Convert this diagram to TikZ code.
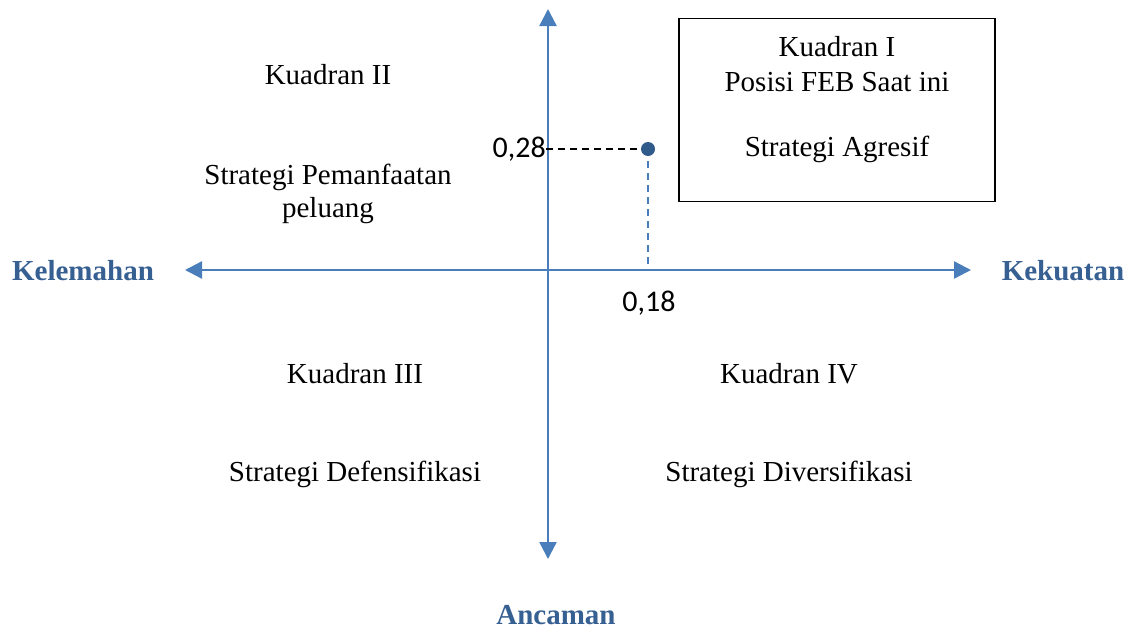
\documentclass[tikz,border=0pt]{standalone}
\usepackage{fontspec}
\setmainfont{Liberation Serif}
\newfontfamily\numfont{Carlito}
\usetikzlibrary{arrows.meta}
\definecolor{axisblue}{HTML}{4A7EBB}
\definecolor{labelblue}{HTML}{376092}
\definecolor{dotblue}{HTML}{2F5A8A}
\tikzset{
  axisline/.style={draw=axisblue, line width=2.3pt, -{Triangle[length=17pt,width=17pt]}},
  txt/.style={font=\fontsize{29}{35}\selectfont, inner sep=0pt, align=center},
  axlabel/.style={font=\fontsize{29}{35}\selectfont\bfseries, text=labelblue, inner sep=0pt},
  numlabel/.style={font=\numfont\fontsize{30}{36}\selectfont, inner sep=0pt},
}
\begin{document}
\begin{tikzpicture}[x=1pt,y=-1pt]
\useasboundingbox (0,0) rectangle (1134,629);
\coordinate (O) at (548,270);
\coordinate (top) at (548,9);
\coordinate (bot) at (548,559);
\coordinate (left) at (185,270);
\coordinate (right) at (971,270);
\draw[axisline] (O) -- (top);
\draw[axisline] (O) -- (bot);
\draw[axisline] (O) -- (left);
\draw[axisline] (O) -- (right);

\node[axlabel] (kel) at (83,271) {Kelemahan};
\node[axlabel] (kek) at (1063,271) {Kekuatan};
\node[axlabel] (anc) at (556,615) {Ancaman};

\node[draw, line width=1.5pt, minimum width=316pt, minimum height=183pt, inner sep=0pt] (box) at (837,110) {};
\node[txt] (k1) at (837,47) {Kuadran I};
\node[txt] (k1b) at (837,82) {Posisi FEB Saat ini};
\node[txt] (k1c) at (837,149) {Strategi Agresif};

\node[txt] (k2) at (328,75) {Kuadran II};
\node[txt] (k2b) at (328,177) {Strategi Pemanfaatan};
\node[txt] (k2c) at (328,211) {peluang};

\node[txt] (k3) at (355,374) {Kuadran III};
\node[txt] (k3b) at (355,474) {Strategi Defensifikasi};

\node[txt] (k4) at (789,374) {Kuadran IV};
\node[txt] (k4b) at (789,474) {Strategi Diversifikasi};

\node[numlabel, anchor=east] (y28) at (546,149) {0,28};
\node[numlabel] (x18) at (649,303) {0,18};

\coordinate (P) at (648,149);
\coordinate (Pbase) at (648,264);
\draw[black, line width=1.6pt, dash pattern=on 7pt off 5pt] (y28.east) -- (P);
\draw[axisblue, line width=1.8pt, dash pattern=on 7pt off 5pt] (P) -- (Pbase);
\fill[dotblue] (P) circle (7pt);
\end{tikzpicture}
\end{document}
